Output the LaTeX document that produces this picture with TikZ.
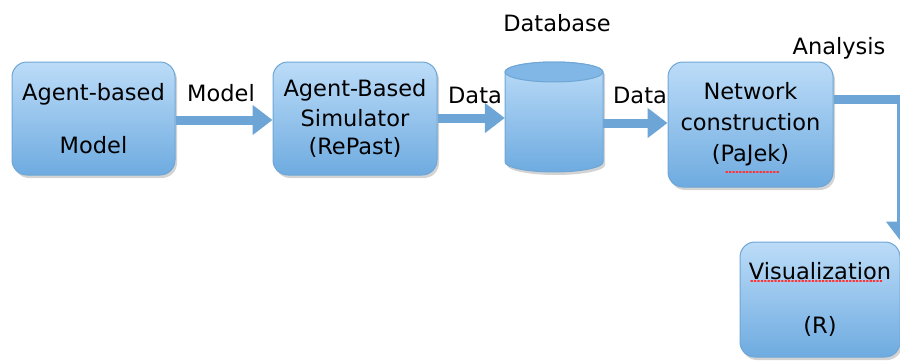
\documentclass[tikz,border=0pt]{standalone}
\usepackage{fontspec}
\setmainfont{DejaVu Sans}
\usetikzlibrary{arrows.meta,shadows,positioning}
\definecolor{boxtop}{HTML}{BCDCF8}
\definecolor{boxbot}{HTML}{6EABE0}
\definecolor{boxline}{HTML}{6EA6D6}
\definecolor{arrowc}{HTML}{6CA5D6}
\tikzset{
  procbox/.style={rounded corners=15pt, draw=boxline, line width=1pt,
    top color=boxtop, bottom color=boxbot, align=center,
    font=\fontsize{22.5}{26}\selectfont, inner sep=0pt,
    drop shadow={opacity=0.35, shadow xshift=2pt, shadow yshift=-3pt}},
  flow/.style={draw=arrowc, line width=9pt,
    -{Triangle[width=29pt,length=20pt]}},
  lbl/.style={font=\fontsize{22.5}{26}\selectfont, inner sep=0pt},
  spell/.style={draw=red!80, line width=1.4pt, dotted, line cap=round}
}
\begin{document}
\begin{tikzpicture}[x=1pt,y=1pt]
\useasboundingbox (0,0) rectangle (900,360);
% boxes
\node[procbox, minimum width=163pt, minimum height=113pt] (abm) at (93.5,241.5)
  {Agent-based\\[27pt]Model};
\node[procbox, minimum width=164pt, minimum height=113pt] (sim) at (355,241.5)
  {Agent-Based\\[4pt]Simulator\\[2pt](RePast)};
\node[procbox, minimum width=165pt, minimum height=125pt] (net) at (750.5,235.5)
  {Network\\[5pt]construction\\[5pt](PaJek)};
\node[procbox, minimum width=160pt, minimum height=115pt] (vis) at (820,60.5)
  {Visualization\\[28pt](R)};
% cylinder
\node[minimum width=98pt, minimum height=110pt, inner sep=0pt] (cyl) at (554,243) {};
\path[top color=boxtop, bottom color=boxbot, draw=boxline, line width=1pt,
  drop shadow={opacity=0.35, shadow xshift=2pt, shadow yshift=-3pt}]
  (505,288) -- (505,198) arc[start angle=180, end angle=360, x radius=49, y radius=10]
  -- (603,288) arc[start angle=0, end angle=180, x radius=49, y radius=10] -- cycle;
\path[fill=boxbot!75!boxtop, draw=boxline, line width=1pt]
  (554,288) ellipse[x radius=49, y radius=10];
% connectors
\draw[flow] (abm.east |- 0,240) -- (sim.west |- 0,240);
\draw[flow] (sim.east |- 0,242) -- (cyl.west |- 0,242);
\draw[flow] (cyl.east |- 0,237) -- (net.west |- 0,237);
\coordinate (bend) at (901,261);
\draw[flow] (net.east |- bend) -- (bend) -- (bend |- vis.north);
% labels
\node[lbl] (lmodel) at (221,267) {Model};
\node[lbl] (ldata1) at (475,265) {Data};
\node[lbl] (ldata2) at (640,265) {Data};
\node[lbl] (ldb) at (557,337) {Database};
\node[lbl] (lana) at (839,312) {Analysis};
% spell-check marks
\draw[spell] (726,188) -- (779,188);
\draw[spell] (751,79) -- (882,79);
\end{tikzpicture}
\end{document}
